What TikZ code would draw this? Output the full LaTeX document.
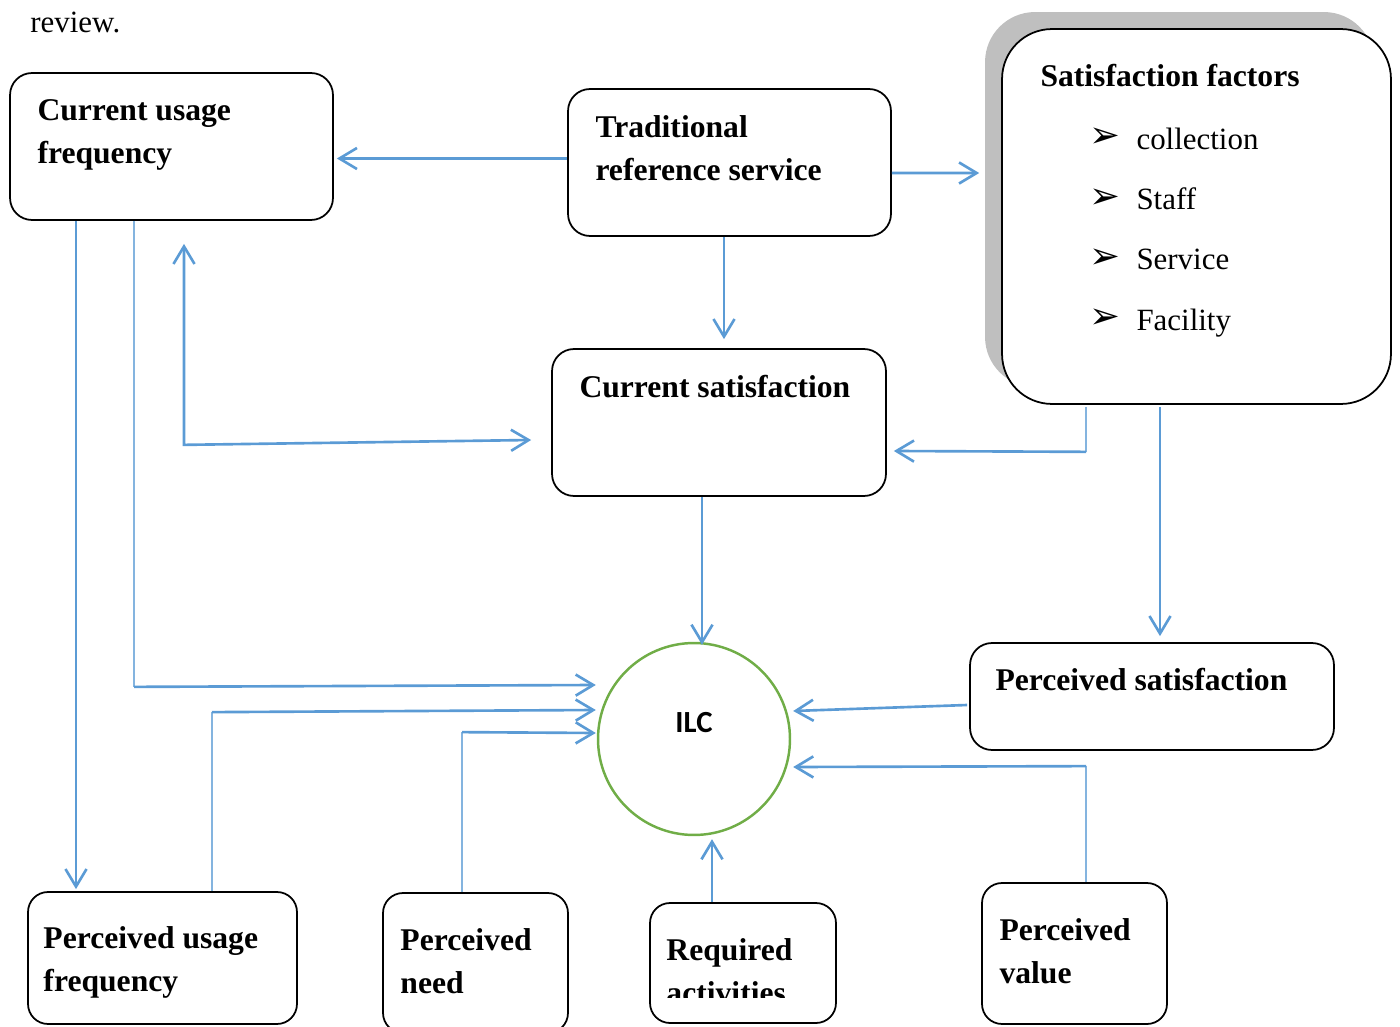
\documentclass[tikz,border=0pt]{standalone}
\usepackage{fontspec}
\setmainfont{Liberation Serif}
\newfontfamily\calibri{Carlito}
\newfontfamily\dingfont{DejaVu Sans}
\usetikzlibrary{arrows.meta,positioning,calc,shadows}
\definecolor{linkblue}{HTML}{5B9BD5}
\definecolor{ilcgreen}{HTML}{70AD47}
\definecolor{shadowgray}{HTML}{BFBFBF}

\begin{document}
\begin{tikzpicture}[x=0.02cm, y=-0.02cm,
    >={Straight Barb[length=10pt,width=12pt]},
    box/.style={draw, line width=1pt, rounded corners=0.44cm, inner sep=0pt},
    lbl/.style={anchor=north west, align=left, inner sep=0pt, font=\fontsize{18}{24.4}\selectfont\bfseries},
    item/.style={anchor=base west, inner sep=0pt, font=\fontsize{17.6}{24}\selectfont},
    bullet/.style={anchor=west, inner sep=0pt, font=\dingfont\fontsize{21}{24}\selectfont},
    conn/.style={draw=linkblue, line width=1.5pt, ->},
    feed/.style={draw=linkblue!75, line width=0.7pt}]
    \useasboundingbox (0,0) rectangle (1400,1027);
    \clip (0,0) rectangle (1400,1027);

    \node[item] (caption) at (30,33) {review.};

    % top row
    \node[box, minimum width=6.46cm, minimum height=2.94cm] (cuf) at (171.5,146.5) {};
    \node[lbl] (cuf-t) at ($(cuf.north west)+(28,27)$) {Current usage\\frequency};
    \node[box, minimum width=6.46cm, minimum height=2.94cm] (trs) at (729.5,162.5) {};
    \node[lbl] (trs-t) at ($(trs.north west)+(28,27)$) {Traditional\\reference service};
    \node[box, fill=white, rounded corners=1cm, minimum width=7.78cm, minimum height=7.5cm,
        drop shadow={shadow xshift=-0.34cm, shadow yshift=0.34cm, fill=shadowgray, opacity=1}] (sf) at (1196.5,216.5) {};
    \node[lbl] (sf-t) at ($(sf.north west)+(39,36)$) {Satisfaction factors};
    \foreach \txt [count=\i from 0] in {collection, Staff, Service, Facility} {
        \node[bullet] (sf-b\i) at ($(sf.north west)+(88,110+60.3*\i)$) {➢};
        \node[item] (sf-i\i) at ($(sf.north west)+(135,121+60.3*\i)$) {\txt};
    }

    % middle
    \node[box, minimum width=6.68cm, minimum height=2.94cm] (cs) at (719,422.5) {};
    \node[lbl] (cs-t) at ($(cs.north west)+(28,27)$) {Current satisfaction};
    \node[circle, draw=ilcgreen, line width=1.4pt, minimum size=3.84cm, inner sep=0pt] (ilc) at (694,739) {};
    \node[font=\calibri\bfseries\fontsize{17.5}{20}\selectfont, inner sep=0pt] (ilc-t) at ($(ilc.center)+(0,-16)$) {ILC};
    \node[box, minimum width=7.28cm, minimum height=2.14cm] (ps) at (1152,696.5) {};
    \node[lbl] (ps-t) at ($(ps.north west)+(26,26)$) {Perceived satisfaction};

    % bottom row
    \node[box, rounded corners=0.4cm, minimum width=5.38cm, minimum height=2.64cm] (puf) at (162.5,958) {};
    \node[lbl] (puf-t) at ($(puf.north west)+(16,35)$) {Perceived usage\\frequency};
    \node[box, rounded corners=0.4cm, minimum width=3.7cm, minimum height=2.8cm] (pn) at (475.5,963) {};
    \node[lbl] (pn-t) at ($(pn.north west)+(18,36)$) {Perceived\\need};
    \node[box, rounded corners=0.4cm, minimum width=3.72cm, minimum height=2.4cm] (ra) at (743,963) {};
    \begin{scope}
        \clip (ra.north west) rectangle ($(ra.north east)+(0,95)$);
        \node[lbl] (ra-t) at ($(ra.north west)+(17,36)$) {Required\\activities};
    \end{scope}
    \node[box, rounded corners=0.4cm, minimum width=3.7cm, minimum height=2.82cm] (pv) at (1074.5,953.5) {};
    \node[lbl] (pv-t) at ($(pv.north west)+(18,36)$) {Perceived\\value};

    % from traditional service
    \draw[conn] ($(trs.west)+(0,-4)$) -- ($(cuf.east)+(3,12)$);
    \draw[conn] ($(trs.east)+(0,10.5)$) -- ($(sf.west)+(-22,-43.5)$);
    \draw[conn] ($(trs.south)+(-5.5,0)$) -- ($(cs.north)+(5,-9)$);

    % usage <-> satisfaction
    \draw[conn, <->] ($(cuf.south)+(12.5,23)$) -- ($(cuf.south)+(12.5,224)$) -- ($(cs.west)+(-20,17.5)$);

    % satisfaction factors
    \draw[feed] ($(sf.south)+(-110.5,2)$) -- ($(sf.south)+(-110.5,47)$) coordinate (sf-elbow);
    \draw[conn] (sf-elbow) -- ($(cs.east)+(7,28.5)$);
    \draw[conn] ($(sf.south)+(-36.5,2)$) -- ($(ps.north)+(8,-6)$);

    % into ILC
    \draw[conn] ($(cs.south)+(-17,0)$) -- ($(ilc.north)+(8,3)$);
    \draw[conn] ($(cuf.south)+(-95.5,0)$) -- ($(puf.north)+(-86.5,-2)$);
    \draw[feed] ($(cuf.south)+(-37.5,0)$) -- ($(cuf.south)+(-37.5,466)$) coordinate (cuf-elbow);
    \draw[conn] (cuf-elbow) -- ($(ilc.west)+(-1,-54)$);
    \draw[feed] ($(puf.north)+(49.5,0)$) -- ($(puf.north)+(49.5,-179)$) coordinate (puf-elbow);
    \draw[conn] (puf-elbow) -- ($(ilc.west)+(-1,-29)$);
    \draw[feed] ($(pn.north)+(-13.5,0)$) -- ($(pn.north)+(-13.5,-160)$) coordinate (pn-elbow);
    \draw[conn] (pn-elbow) -- ($(ilc.west)+(-1,-6)$);
    \draw[conn] ($(ra.north)+(-31,0)$) -- ($(ilc.south)+(18,3)$);
    \draw[conn] ($(ps.west)+(-2,8.5)$) -- ($(ilc.east)+(2,-28)$);
    \draw[feed] ($(pv.north)+(11.5,0)$) -- ($(pv.north)+(11.5,-116)$) coordinate (pv-elbow);
    \draw[conn] (pv-elbow) -- ($(ilc.east)+(2,28)$);
\end{tikzpicture}
\end{document}
